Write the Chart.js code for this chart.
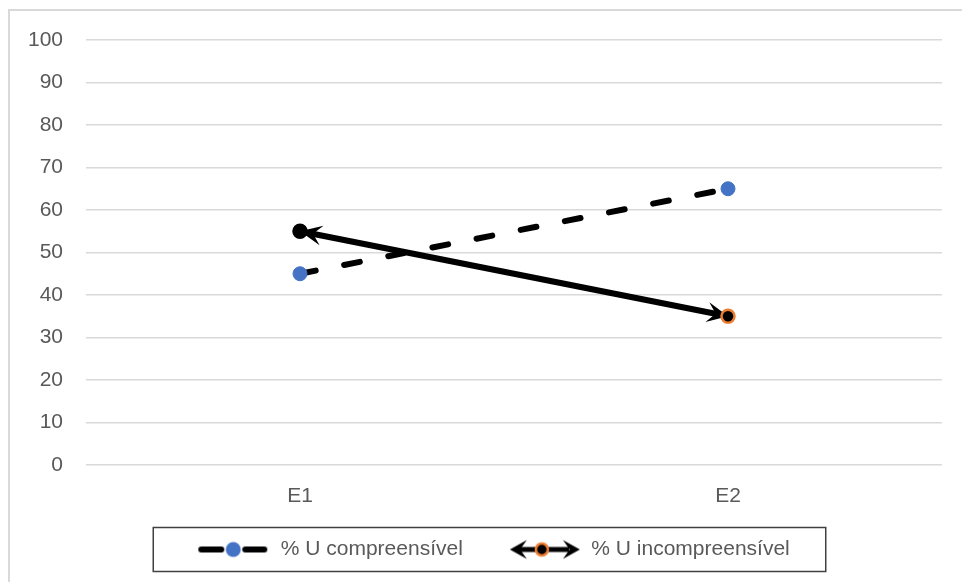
<!DOCTYPE html>
<html lang="pt-BR">
<head>
    <meta charset="UTF-8">
    <title>Compreensibilidade E1 / E2</title>
    <style>
        body {
            margin: 0;
            padding: 0;
            background: #ffffff;
        }
    </style>
    <script src="https://cdn.jsdelivr.net/npm/chart.js"></script>
</head>
<body>
    <canvas id="grafico" width="962" height="582"></canvas>
    <script>
        // dados
        const categorias = ['E1', 'E2'];
        const compreensivel = [45, 65];
        const incompreensivel = [55, 35];
        const nomesSeries = ['% U compreensível', '% U incompreensível'];

        const AZUL = '#4472C4';
        const LARANJA = '#ED7D31';
        const CINZA_TEXTO = '#595959';
        const MARGEM = 36; // espaço vazio à esquerda de cada amostra da legenda

        Chart.defaults.font.family = "'Liberation Sans', Arial, sans-serif";
        Chart.defaults.font.size = 21;
        Chart.defaults.color = CINZA_TEXTO;

        // ponta de seta preenchida, ponta em (x, y), apontando na direção ang
        function desenharSeta(ctx, x, y, ang, comp, larg) {
            ctx.save();
            ctx.translate(x, y);
            ctx.rotate(ang);
            ctx.beginPath();
            ctx.moveTo(0, 0);
            ctx.lineTo(-comp, -larg);
            ctx.lineTo(-comp * 0.6, 0);
            ctx.lineTo(-comp, larg);
            ctx.closePath();
            ctx.fillStyle = '#000';
            ctx.fill();
            ctx.restore();
        }

        // amostras da legenda
        function amostraTracejada() {
            const c = document.createElement('canvas');
            c.width = 72 + MARGEM; c.height = 22;
            const ctx = c.getContext('2d');
            ctx.translate(MARGEM, 0);
            ctx.strokeStyle = '#000';
            ctx.lineWidth = 6;
            ctx.lineCap = 'round';
            ctx.beginPath();
            ctx.moveTo(3, 11); ctx.lineTo(23, 11);
            ctx.moveTo(47, 11); ctx.lineTo(66, 11);
            ctx.stroke();
            ctx.beginPath();
            ctx.arc(35, 11, 7.5, 0, Math.PI * 2);
            ctx.fillStyle = AZUL;
            ctx.fill();
            return c;
        }

        function amostraSetas() {
            const c = document.createElement('canvas');
            c.width = 72 + MARGEM; c.height = 22;
            const ctx = c.getContext('2d');
            ctx.translate(MARGEM, 0);
            ctx.strokeStyle = '#000';
            ctx.lineWidth = 5;
            ctx.beginPath();
            ctx.moveTo(10, 11); ctx.lineTo(60, 11);
            ctx.stroke();
            desenharSeta(ctx, 1, 11, Math.PI, 17, 9.5);
            desenharSeta(ctx, 71, 11, 0, 17, 9.5);
            ctx.beginPath();
            ctx.arc(33, 11, 6, 0, Math.PI * 2);
            ctx.fillStyle = '#000';
            ctx.fill();
            ctx.lineWidth = 2.5;
            ctx.strokeStyle = LARANJA;
            ctx.stroke();
            return c;
        }

        const amostras = [amostraTracejada(), amostraSetas()];

        const moldura = {
            id: 'moldura',
            beforeDraw(chart) {
                const ctx = chart.ctx;
                ctx.save();
                ctx.strokeStyle = '#d9d9d9';
                ctx.lineWidth = 2;
                ctx.beginPath();
                ctx.moveTo(9, chart.height + 5);
                ctx.lineTo(9, 10);
                ctx.lineTo(chart.width + 5, 10);
                ctx.stroke();
                ctx.restore();
            },
            afterDraw(chart) {
                const caixas = chart.legend.legendHitBoxes;
                if (!caixas || !caixas.length) return;
                const esq = Math.min(...caixas.map(b => b.left)) + MARGEM - 45;
                const dir = Math.max(...caixas.map(b => b.left + b.width)) + 36;
                const meio = caixas[0].top + caixas[0].height / 2;
                const ctx = chart.ctx;
                ctx.save();
                ctx.strokeStyle = '#404040';
                ctx.lineWidth = 1.5;
                ctx.strokeRect(esq, meio - 22, dir - esq, 44);
                ctx.restore();
            }
        };

        const setas = {
            id: 'setas',
            beforeDatasetDraw(chart, args) {
                if (args.index !== 1) return;
                const pts = chart.getDatasetMeta(1).data;
                const a = pts[0], b = pts[1];
                const ang = Math.atan2(b.y - a.y, b.x - a.x);
                desenharSeta(chart.ctx, a.x, a.y, ang + Math.PI, 22, 10);
                desenharSeta(chart.ctx, b.x, b.y, ang, 21, 10);
            }
        };

        const ctx = document.getElementById('grafico').getContext('2d');
        new Chart(ctx, {
            type: 'line',
            data: {
                labels: categorias,
                datasets: [
                    {
                        label: nomesSeries[0],
                        data: compreensivel,
                        borderColor: '#000',
                        borderWidth: 6,
                        borderDash: [16, 29],
                        borderCapStyle: 'round',
                        pointRadius: 7,
                        pointBackgroundColor: AZUL,
                        pointBorderColor: AZUL,
                        pointBorderWidth: 1
                    },
                    {
                        label: nomesSeries[1],
                        data: incompreensivel,
                        borderColor: '#000',
                        borderWidth: 6,
                        pointRadius: 6.5,
                        pointBackgroundColor: '#000',
                        pointBorderColor: ['#000', LARANJA],
                        pointBorderWidth: 2.5
                    }
                ]
            },
            options: {
                responsive: false,
                animation: false,
                layout: {
                    padding: { top: 40, left: 10, right: 20, bottom: 12 }
                },
                plugins: {
                    tooltip: { enabled: false },
                    legend: {
                        position: 'bottom',
                        labels: {
                            usePointStyle: true,
                            pointStyleWidth: 72 + MARGEM,
                            padding: 10,
                            color: CINZA_TEXTO,
                            generateLabels(chart) {
                                return chart.data.datasets.map((ds, i) => ({
                                    text: ds.label,
                                    datasetIndex: i,
                                    pointStyle: amostras[i],
                                    fillStyle: 'transparent',
                                    strokeStyle: 'transparent',
                                    lineWidth: 0,
                                    fontColor: CINZA_TEXTO,
                                    hidden: false
                                }));
                            }
                        }
                    }
                },
                scales: {
                    x: {
                        offset: true,
                        grid: { display: false },
                        border: { display: false },
                        ticks: { padding: 11 },
                        afterFit(s) { s.height = 64; }
                    },
                    y: {
                        min: 0,
                        max: 100,
                        ticks: { stepSize: 10, padding: 23 },
                        grid: { color: '#d9d9d9', lineWidth: 1.5, drawTicks: false },
                        border: { display: false },
                        afterFit(s) { s.width = 76; }
                    }
                }
            },
            plugins: [moldura, setas]
        });
    </script>
</body>
</html>
